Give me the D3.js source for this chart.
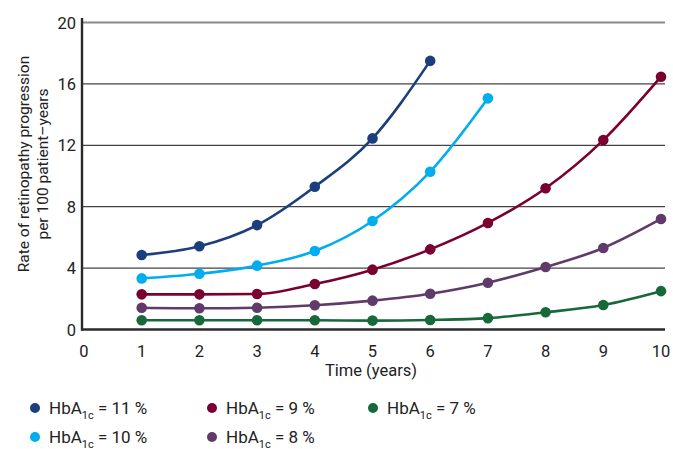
<!DOCTYPE html>
<html><head><meta charset="utf-8">
<script src="https://cdn.jsdelivr.net/npm/d3@7"></script>
<style>body{margin:0;background:#fff;} text{font-family:Roboto, "Liberation Sans", sans-serif;fill:#222;}</style>
</head><body><svg id="c" width="673" height="449"></svg>
<script>
const years = [1,2,3,4,5,6,7,8,9,10];
const xTicks = [0,1,2,3,4,5,6,7,8,9,10];
const yTicks = [0,4,8,12,16,20];
const seriesNames = ["11 %","10 %","9 %","8 %","7 %"];
const seriesColors = ["#1b3f7c","#00aeef","#7b0032","#5f3a6a","#17693a"];
const hba11 = [4.85,5.42,6.8,9.3,12.45,17.5];
const hba10 = [3.33,3.63,4.16,5.11,7.07,10.28,15.06];
const hba9 = [2.29,2.29,2.31,2.96,3.9,5.22,6.94,9.2,12.34,16.47];
const hba8 = [1.42,1.38,1.42,1.58,1.88,2.33,3.05,4.07,5.31,7.2];
const hba7 = [0.6,0.6,0.6,0.6,0.58,0.62,0.74,1.12,1.6,2.5];
const seriesValues = [hba11,hba10,hba9,hba8,hba7];

const svg = d3.select("#c");
const x = d3.scaleLinear().domain([0,10]).range([84,661]);
const y = d3.scaleLinear().domain([0,20]).range([329.5,22.5]);
const gridRight = 665, axisX = 82;

// gridlines
svg.append("g").selectAll("line").data(yTicks.filter(d=>d>0)).join("line")
  .attr("x1",axisX).attr("x2",gridRight)
  .attr("y1",d=>y(d)).attr("y2",d=>y(d))
  .attr("stroke",d=>d===20?"#8a8a8a":"#444").attr("stroke-width",d=>d===20?1.8:1.2);

// axes lines
svg.append("line").attr("x1",axisX).attr("x2",axisX).attr("y1",18).attr("y2",330.5)
  .attr("stroke","#2a2a2a").attr("stroke-width",2.4);
svg.append("line").attr("x1",axisX-1).attr("x2",gridRight).attr("y1",329.5).attr("y2",329.5)
  .attr("stroke","#2a2a2a").attr("stroke-width",2.4);

// tick labels
svg.append("g").selectAll("text").data(yTicks).join("text")
  .attr("x",76).attr("y",d=>y(d)+6).attr("text-anchor","end")
  .attr("font-size",16.5).text(d=>d);
svg.append("g").selectAll("text").data(xTicks).join("text")
  .attr("x",d=>x(d)).attr("y",357).attr("text-anchor","middle")
  .attr("font-size",16.5).text(d=>d);

// axis titles
svg.append("text").attr("x",371).attr("y",376).attr("text-anchor","middle")
  .attr("font-size",16.5).text("Time (years)");
const yt = svg.append("text").attr("transform","translate(29,164) rotate(-90)")
  .attr("text-anchor","middle").attr("font-size",15.5);
yt.append("tspan").attr("x",0).attr("y",0).text("Rate of retinopathy progression");
yt.append("tspan").attr("x",0).attr("y",19).text("per 100 patient\u2013years");

// lines
const line = d3.line().x((d,i)=>x(years[i])).y(d=>y(d)).curve(d3.curveMonotoneX);
const g = svg.append("g");
seriesValues.forEach((vals,si)=>{
  g.append("path").datum(vals).attr("d",line).attr("fill","none")
    .attr("stroke",seriesColors[si]).attr("stroke-width",2.6);
});
seriesValues.forEach((vals,si)=>{
  g.append("g").selectAll("circle").data(vals).join("circle")
    .attr("cx",(d,i)=>x(years[i])).attr("cy",d=>y(d)).attr("r",5.3)
    .attr("fill",seriesColors[si]);
});

// legend
const legPos = [[35,408],[35,437],[212,408],[212,437],[373,408]];
seriesNames.forEach((name,si)=>{
  const [lx,ly] = legPos[si];
  svg.append("circle").attr("cx",lx).attr("cy",ly).attr("r",5).attr("fill",seriesColors[si]);
  const t = svg.append("text").attr("x",lx+14).attr("y",ly+6).attr("font-size",17);
  t.append("tspan").text("HbA");
  t.append("tspan").attr("font-size",11).attr("dy",4.5).text("1c");
  t.append("tspan").attr("dy",-4.5).text(" = " + name);
});
</script></body></html>
